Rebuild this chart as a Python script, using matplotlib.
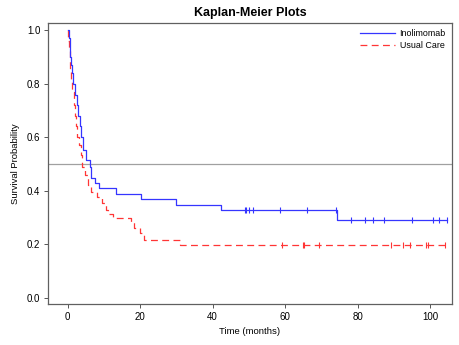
import numpy as np
import matplotlib.pyplot as plt

plt.rcParams['font.family'] = ['Liberation Sans', 'DejaVu Sans']

# Kaplan-Meier step curves: time of each drop and survival level after it
ino_times = [0, 0.3, 0.6, 0.8, 1.0, 1.2, 1.4, 2.0, 2.5, 2.9, 3.3, 3.7, 4.3, 5.0,
             6.2, 6.6, 7.6, 8.7, 13.4, 20.2, 30.0, 42.2, 74.4]
ino_surv = [1.0, 0.97, 0.93, 0.90, 0.87, 0.84, 0.80, 0.757, 0.72, 0.68, 0.64,
            0.60, 0.552, 0.514, 0.489, 0.448, 0.43, 0.409, 0.389, 0.368, 0.347,
            0.328, 0.290]
ino_censor = [48.9, 49.2, 50.0, 51.0, 58.6, 65.9, 74.0, 78.2, 81.9, 84.1, 87.3,
              95.0, 100.7, 102.5, 104.6]

uc_times = [0, 0.2, 0.4, 0.6, 0.8, 1.0, 1.3, 1.7, 2.0, 2.3, 2.6, 3.1, 3.6, 4.1,
            4.8, 5.7, 6.6, 8.0, 9.5, 10.5, 11.2, 12.4, 17.4, 18.4, 19.9, 21.1, 31.0]
uc_surv = [1.0, 0.96, 0.92, 0.88, 0.85, 0.81, 0.77, 0.72, 0.68, 0.64, 0.60, 0.57,
           0.533, 0.489, 0.458, 0.421, 0.396, 0.377, 0.353, 0.328, 0.312, 0.297,
           0.282, 0.259, 0.240, 0.215, 0.196]
uc_censor = [59.0, 64.8, 65.2, 69.3, 89.1, 92.6, 94.4, 98.8, 99.4, 104.1]

end_time = 104.6


def km_line(times, surv):
    t = np.append(times, end_time)
    s = np.append(surv, surv[-1])
    return t, s


def surv_at(times, surv, when):
    idx = np.searchsorted(times, when, side='right') - 1
    return np.asarray(surv)[idx]


blue = '#3535ff'
red = '#ff3535'

fig = plt.figure(figsize=(4.6, 3.45), dpi=100)
ax = fig.add_axes([0.1043, 0.1188, 0.8783, 0.8145])

ax.axhline(0.5, color='#a0a0a0', lw=0.9, zorder=1)

t, s = km_line(ino_times, ino_surv)
ax.step(t, s, where='post', color=blue, lw=0.9, label='Inolimomab', zorder=3)
ax.plot(ino_censor, surv_at(ino_times, ino_surv, ino_censor), ls='none',
        marker='|', ms=4.5, mew=0.8, color=blue, zorder=3)

t, s = km_line(uc_times, uc_surv)
ax.step(t, s, where='post', color=red, lw=0.9, dashes=(5.5, 3.5),
        label='Usual Care', zorder=2)
ax.plot(uc_censor, surv_at(uc_times, uc_surv, uc_censor), ls='none',
        marker='|', ms=4.5, mew=0.8, color=red, zorder=2)

ax.set_xlim(-5.4, 106)
ax.set_ylim(-0.0235, 1.026)
ax.set_xticks([0, 20, 40, 60, 80, 100])
ax.set_yticks([0.0, 0.2, 0.4, 0.6, 0.8, 1.0])
ax.yaxis.set_major_formatter(plt.FormatStrFormatter('%.1f'))
ax.tick_params(labelsize=7, length=3, width=0.7, color='#555555', pad=2.5)

for sp in ax.spines.values():
    sp.set_color('#606060')
    sp.set_linewidth(0.9)

ax.set_xlabel('Time (months)', fontsize=6.8, labelpad=4)
ax.set_ylabel('Survival Probability', fontsize=6.8, labelpad=5)
ax.set_title('Kaplan-Meier Plots', fontsize=9, fontweight='bold', pad=5)

ax.legend(loc='upper right', frameon=False, fontsize=6.4, handlelength=4,
          handletextpad=0.5, borderaxespad=0.3, labelspacing=0.35)

fig.savefig('out.png', dpi=100)
